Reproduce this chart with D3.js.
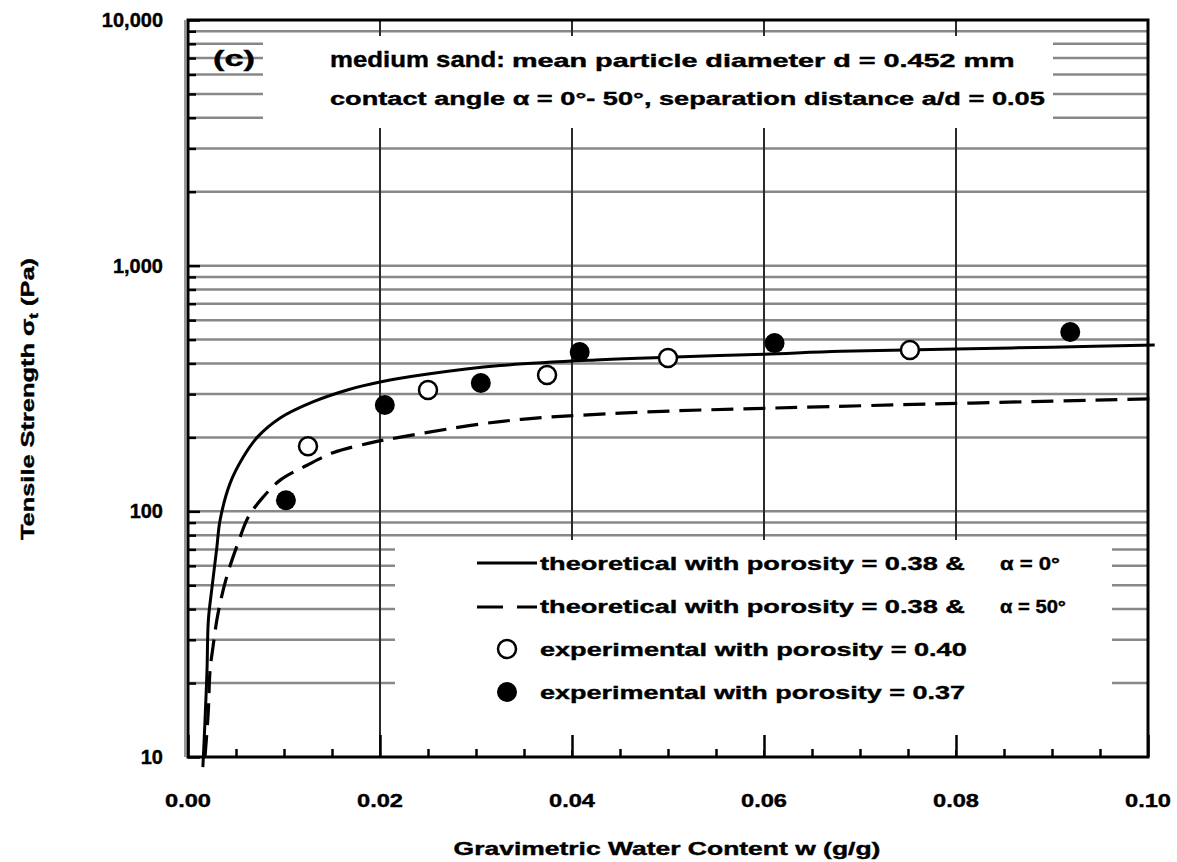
<!DOCTYPE html>
<html><head><meta charset="utf-8">
<script src="https://cdn.jsdelivr.net/npm/d3@7"></script>
<style>
body{margin:0;background:#fff}
svg{display:block}
text{font-family:"Liberation Sans",Arial,sans-serif;font-weight:bold;fill:#000;stroke:#000;stroke-width:0.4px}
</style>
</head><body>
<svg id="c" width="1177" height="862"></svg>
<script>
// ---------- data ----------
const xTickValues = [0, 0.02, 0.04, 0.06, 0.08, 0.10];
const xTickLabels = ["0.00", "0.02", "0.04", "0.06", "0.08", "0.10"];
const yTickValues = [10, 100, 1000, 10000];
const yTickLabels = ["10", "100", "1,000", "10,000"];

// theoretical, porosity 0.38, alpha = 0 deg (solid)
const solidW = [0.00155, 0.00177, 0.00198, 0.00212, 0.0025, 0.0030, 0.00334, 0.00438, 0.00574, 0.0072, 0.0096, 0.0130, 0.0166, 0.0200, 0.0250, 0.0325, 0.0430, 0.0500, 0.0600, 0.0680, 0.0800, 0.0900, 0.1007];
const solidS = [9.1, 14, 22.6, 36, 49, 71, 92, 130, 166, 200, 240, 279, 312, 336, 362, 392, 414, 424, 436, 448, 458, 466, 475];

// theoretical, porosity 0.38, alpha = 50 deg (dashed)
const dashW = [0.00177, 0.0021, 0.0023, 0.0026, 0.0030, 0.0035, 0.0042, 0.0054, 0.0060, 0.0065, 0.0078, 0.0096, 0.0124, 0.0151, 0.0190, 0.0220, 0.0325, 0.0450, 0.0670, 0.1007];
const dashS = [10, 15, 22.6, 28, 36, 45, 57, 78, 90, 98, 114, 134, 154, 173, 190, 200, 232, 251, 267, 287];

// experimental, porosity 0.40 (open circles)
const openW = [0.0125, 0.0250, 0.0374, 0.0500, 0.0752];
const openS = [184, 312, 359, 421, 454];

// experimental, porosity 0.37 (filled circles)
const fillW = [0.0102, 0.0205, 0.0305, 0.0408, 0.0611, 0.0919];
const fillS = [111, 271, 333, 445, 484, 537];

const legendLabels = [
  "theoretical with porosity = 0.38 &",
  "theoretical with porosity = 0.38 &",
  "experimental with porosity = 0.40",
  "experimental with porosity = 0.37"
];
const legendAlpha = ["α = 0°", "α = 50°"];

// ---------- drawing ----------
const svg = d3.select("#c");
const x = d3.scaleLinear().domain([0, 0.1]).range([188, 1148]);
const y = d3.scaleLog().domain([10, 10000]).range([757, 20]);

function stretch(t, target) {
  const n = t.node();
  const w = n.getComputedTextLength();
  if (!w) return;
  const k = target / w;
  const ax = +n.getAttribute("x") || 0;
  const ay = +n.getAttribute("y") || 0;
  const prev = n.getAttribute("transform") || "";
  n.setAttribute("transform", prev + ` translate(${ax},${ay}) scale(${k},1) translate(${-ax},${-ay})`);
}
function txt(str, px, py, size, width, anchor) {
  const t = svg.append("text").attr("x", px).attr("y", py)
    .attr("text-anchor", anchor || "start").style("font-size", size + "px").text(str);
  if (width) stretch(t, width);
  return t;
}

const [x0, x1] = x.range();
const [yb, yt] = y.range();

// horizontal gridlines (minor + inner decades)
const yAll = y.ticks().filter(v => v > 10 && v < 10000);
svg.append("g").selectAll("line").data(yAll).join("line")
  .attr("x1", x0).attr("x2", x1)
  .attr("y1", d => y(d)).attr("y2", d => y(d))
  .attr("stroke", "#888")
  .attr("stroke-width", 2.5);

// vertical gridlines
const xMajorInner = xTickValues.filter(v => v > 0 && v < 0.1);
svg.append("g").selectAll("line").data(xMajorInner).join("line")
  .attr("x1", d => x(d)).attr("x2", d => x(d))
  .attr("y1", yt).attr("y2", yb)
  .attr("stroke", "#2a2a2a").attr("stroke-width", 2);

// white title & legend boxes covering the grid
svg.append("rect").attr("x", 263).attr("y", 36).attr("width", 790).attr("height", 92).attr("fill", "#fff");
svg.append("rect").attr("x", 395).attr("y", 540).attr("width", 717).attr("height", 210).attr("fill", "#fff");

// axes (tick marks)
const yMinor = y.ticks().filter(v => !yTickValues.includes(v));
const gyMinor = svg.append("g").attr("transform", `translate(${x0},0)`)
  .call(d3.axisLeft(y).tickValues(yMinor).tickSize(-8).tickFormat(""));
const gy = svg.append("g").attr("transform", `translate(${x0},0)`)
  .call(d3.axisLeft(y).tickValues(yTickValues).tickSize(-12).tickFormat(""));
const xMinor = d3.range(0, 21).map(i => i * 0.005).filter(v => Math.abs(v * 50 - Math.round(v * 50)) > 1e-6);
const gxMinor = svg.append("g").attr("transform", `translate(0,${yb})`)
  .call(d3.axisBottom(x).tickValues(xMinor).tickSize(-8).tickFormat(""));
const gx = svg.append("g").attr("transform", `translate(0,${yb})`)
  .call(d3.axisBottom(x).tickValues(xTickValues).tickSize(-22).tickFormat(""));
[gyMinor, gy, gxMinor, gx].forEach(g => {
  g.select(".domain").remove();
  g.selectAll(".tick line").attr("stroke", "#000").attr("stroke-width", 2.5);
});

// tick labels (positioned through the scales)
yTickValues.forEach((v, i) => txt(yTickLabels[i], 163, y(v) + 7, 20, null, "end"));
xTickValues.forEach((v, i) => txt(xTickLabels[i], x(v), 807, 19, 46, "middle"));

// frame
svg.append("rect").attr("x", x0).attr("y", yt).attr("width", x1 - x0).attr("height", yb - yt)
  .attr("fill", "none").attr("stroke", "#000").attr("stroke-width", 3);
svg.append("line").attr("x1", x0 - 3).attr("x2", x0 - 3).attr("y1", yt).attr("y2", yb)
  .attr("stroke", "#999").attr("stroke-width", 2);

// curves
const line = d3.line().x(d => x(d[0])).y(d => y(d[1])).curve(d3.curveCatmullRom.alpha(0.5));
svg.append("path").datum(d3.zip(solidW, solidS)).attr("d", line)
  .attr("fill", "none").attr("stroke", "#000").attr("stroke-width", 3);
svg.append("path").datum(d3.zip(dashW, dashS)).attr("d", line)
  .attr("fill", "none").attr("stroke", "#000").attr("stroke-width", 3.2)
  .attr("stroke-dasharray", "22,10");

// points
svg.append("g").selectAll("circle").data(d3.zip(openW, openS)).join("circle")
  .attr("cx", d => x(d[0])).attr("cy", d => y(d[1])).attr("r", 9)
  .attr("fill", "#fff").attr("stroke", "#000").attr("stroke-width", 2.5);
svg.append("g").selectAll("circle").data(d3.zip(fillW, fillS)).join("circle")
  .attr("cx", d => x(d[0])).attr("cy", d => y(d[1])).attr("r", 10)
  .attr("fill", "#000");

// title texts
txt("(c)", 213, 66, 22, 42);
txt("medium sand:", 330, 67, 23, 175);
txt("mean particle diameter d = 0.452 mm", 512, 67, 18, 503);
txt("contact angle α = 0°- 50°, separation distance a/d = 0.05", 330, 105, 19, 715);

// legend
svg.append("line").attr("x1", 477).attr("x2", 537).attr("y1", 563).attr("y2", 563)
  .attr("stroke", "#000").attr("stroke-width", 3);
svg.append("line").attr("x1", 477).attr("x2", 537).attr("y1", 607).attr("y2", 607)
  .attr("stroke", "#000").attr("stroke-width", 3).attr("stroke-dasharray", "26,14");
svg.append("circle").attr("cx", 507).attr("cy", 649).attr("r", 9)
  .attr("fill", "#fff").attr("stroke", "#000").attr("stroke-width", 2.5);
svg.append("circle").attr("cx", 507).attr("cy", 692).attr("r", 10).attr("fill", "#000");
const legY = [570, 613, 656, 699];
const legWid = [425, 425, 427, 425];
legendLabels.forEach((s, i) => txt(s, 540, legY[i], 19, legWid[i]));
txt(legendAlpha[0], 1000, 570, 19, 60);
txt(legendAlpha[1], 1000, 613, 19, 66);

// axis titles
txt("Gravimetric Water Content w (g/g)", 667, 855, 18, 427, "middle");
const yt2 = svg.append("text").attr("x", 0).attr("y", 6)
  .attr("transform", "translate(28,399) rotate(-90)")
  .attr("text-anchor", "middle").style("font-size", "18px");
yt2.append("tspan").text("Tensile Strength σ");
yt2.append("tspan").attr("dy", 4).style("font-size", "12px").text("t");
yt2.append("tspan").attr("dy", -4).text(" (Pa)");
stretch(yt2, 282);
</script>
</body></html>
